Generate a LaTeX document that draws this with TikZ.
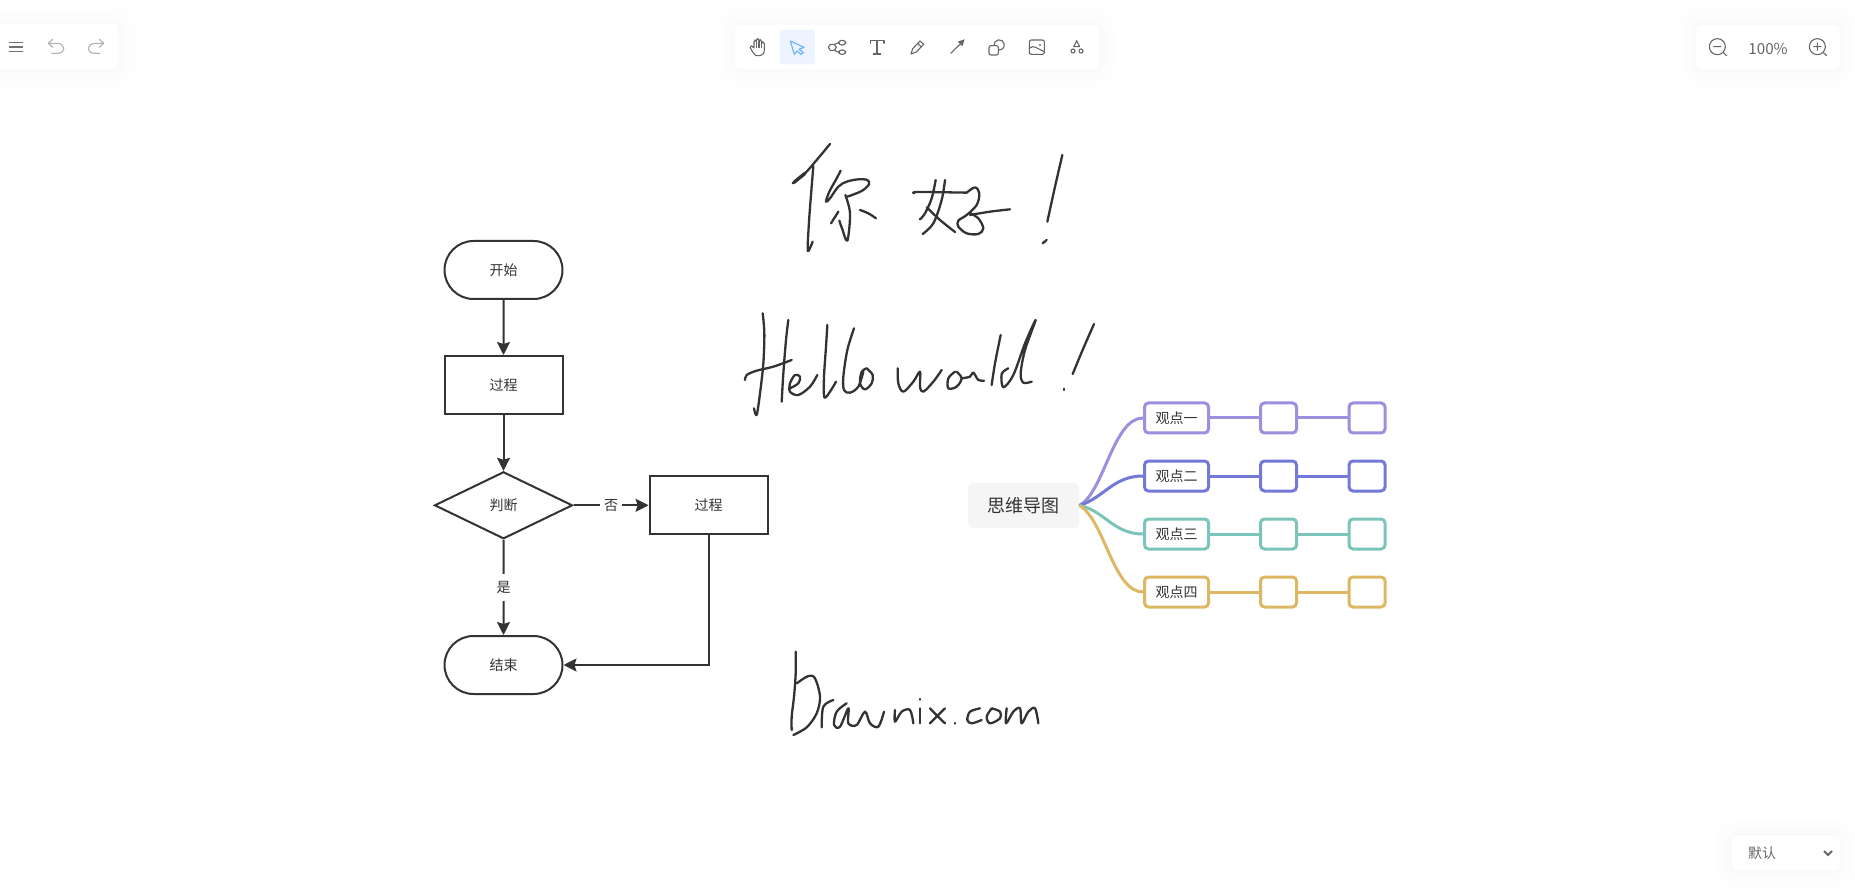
\documentclass[tikz,border=0pt]{standalone}
\usepackage{fontspec}
\setmainfont{Noto Sans CJK SC}
\usetikzlibrary{arrows.meta,shapes.geometric,shapes.misc}

\definecolor{ink}{HTML}{333333}
\definecolor{icongray}{HTML}{666666}
\definecolor{mutedgray}{HTML}{B0B0B0}
\definecolor{mindA}{HTML}{9C8FDE}
\definecolor{mindB}{HTML}{7279D6}
\definecolor{mindC}{HTML}{7AC4B9}
\definecolor{mindD}{HTML}{DDB763}

\tikzset{
  inkline/.style={draw=ink, line width=1.15pt, line cap=round, line join=round},
  flowbox/.style={draw=ink, line width=1pt, fill=white, font=\fontsize{7}{8}\selectfont, text=ink, inner sep=0pt},
  flowrect/.style={flowbox, rectangle, minimum width=59pt, minimum height=29pt},
  flowround/.style={flowbox, rounded rectangle, minimum width=59pt, minimum height=29pt},
  flowtest/.style={flowbox, diamond, minimum width=69pt, minimum height=33.5pt},
  flowarrow/.style={draw=ink, line width=1pt, -{Stealth[length=6.5pt,width=6.5pt,inset=1pt]}},
  edgelabel/.style={fill=white, font=\fontsize{7}{8}\selectfont, text=ink, inner xsep=2pt, inner ysep=3.5pt},
  mindroot/.style={fill=black!4, rounded corners=2.5pt, minimum width=55.5pt, minimum height=22.5pt, font=\fontsize{9}{10}\selectfont, text=ink, inner sep=0pt},
  mindbox/.style={draw=#1, line width=1.5pt, rounded corners=2pt, fill=white, minimum height=15pt, font=\fontsize{7}{8}\selectfont, text=ink, inner sep=0pt},
  mindline/.style={draw=#1, line width=1.5pt},
  icon/.style={draw=icongray, line width=0.55pt, line cap=round, line join=round},
  panel/.style={fill=white, rounded corners=2.5pt},
  toolfont/.style={text=icongray, inner sep=0pt}
}

\newcommand{\inkstroke}[1]{\draw[inkline] plot[smooth,tension=.55] coordinates {#1};}
\newcommand{\softpanel}[2]{
  \foreach \w in {18,14,10,6,3}
    \draw[black, opacity=0.004, line width=\w pt, rounded corners=3pt] #1 rectangle #2;
  \fill[panel] #1 rectangle #2;
}

\begin{document}
\begin{tikzpicture}[x=0.5pt, y=-0.5pt]
  \useasboundingbox (0,0) rectangle (1855,892);
  \fill[white] (0,0) rectangle (1855,892);

  % toolbars
  \softpanel{(-20,24)}{(118,69)}
  \softpanel{(735,25)}{(1099,69)}
  \softpanel{(1696,25)}{(1840,69)}
  \softpanel{(1732,836)}{(1840,870)}

  % left menu
  \begin{scope}[shift={(0,0)}, scale=1/3]
    \foreach \y in {127,141,155}
      \draw[icon, draw=black!55] (28,\y) -- (68,\y);
    \draw[icon, draw=mutedgray] (158,118) -- (145,130) -- (158,142);
    \draw[icon, draw=mutedgray] (145,130) -- (172,130) .. controls (198,132) and (198,160) .. (172,160) -- (155,160);
    \draw[icon, draw=mutedgray] (298,118) -- (311,130) -- (298,142);
    \draw[icon, draw=mutedgray] (311,130) -- (285,130) .. controls (258,132) and (258,160) .. (285,160) -- (300,160);
  \end{scope}

  % main tools
  \begin{scope}[shift={(725,15)}, scale=1/3]
    \fill[blue!60!cyan!7, rounded corners=1.5pt] (164,45) rectangle (270,148);
    % hand
    \draw[icon] (93,122) .. controls (84,115) and (80,105) .. (75,97) .. controls (76,90) and (83,92) .. (87,99)
      -- (87,80) .. controls (88,73) and (93,73) .. (94,80) -- (94,76) .. controls (95,69) and (101,69) .. (102,76)
      -- (102,79) .. controls (103,72) and (109,72) .. (110,80) -- (110,85) .. controls (111,79) and (117,79) .. (118,86)
      -- (118,105) .. controls (118,115) and (112,122) .. (105,122) -- cycle;
    \draw[icon] (94,80) -- (94,98) (102,78) -- (102,98) (110,82) -- (110,98);
    % select
    \draw[icon, draw=blue!50!cyan!60] (196,78) -- (237,97) -- (222,103) -- (235,113) -- (228,118) -- (216,108) -- (208,118) -- cycle;
    % mind
    \draw[icon] (310,97) -- (316,88) -- (328,88) -- (334,97) -- (328,106) -- (316,106) -- cycle;
    \draw[icon, rounded corners=1.5pt] (341,76) rectangle (362,90);
    \draw[icon, rounded corners=1.5pt] (341,105) rectangle (362,118);
    \draw[icon] (328,88) -- (341,83) (328,106) -- (341,111);
    % text
    \draw[icon] (436,85) -- (436,77) -- (477,77) -- (477,85);
    \draw[icon] (456,77) -- (456,117) (445,117) -- (467,117);
    % pencil
    \draw[icon] (558,117) -- (563,101) -- (585,78) -- (596,88) -- (574,111) -- cycle;
    \draw[icon] (578,85) -- (589,96);
    % arrow
    \draw[icon] (677,115) -- (708,85);
    \fill[icongray] (719,73) -- (712,94) -- (698,80) -- cycle;
    % shape
    \draw[icon, rounded corners=1pt] (792,92) rectangle (820,120);
    \draw[icon] (807,92) arc[start angle=172, end angle=456, radius=15.5];
    % image
    \draw[icon, rounded corners=1pt] (913,75) rectangle (958,118);
    \draw[icon] (913,100) .. controls (925,88) and (935,100) .. (958,110);
    \fill[icongray] (945,90) circle[radius=3.5];
    % shapes
    \draw[icon] (1055,77) -- (1046,95) -- (1064,95) -- cycle;
    \draw[icon] (1044,108) circle[radius=6];
    \draw[icon] (1068,108) circle[radius=6];
  \end{scope}

  % zoom
  \begin{scope}[shift={(1680,15)}, scale=1/3]
    \draw[icon] (112,95) circle[radius=24];
    \draw[icon] (130,113) -- (140,122) (101,95) -- (123,95);
    \draw[icon] (412,95) circle[radius=24];
    \draw[icon] (430,113) -- (440,122) (401,95) -- (423,95) (412,84) -- (412,106);
  \end{scope}
  \node[toolfont, font=\fontsize{7.6}{9}\selectfont] (zoomlevel) at (1768,49) {100\%};

  % theme select
  \node[toolfont, font=\fontsize{7}{8}\selectfont] (theme) at (1762,853) {默认};
  \draw[icongray, line width=1pt] (1824,851) -- (1828,855) -- (1832,851);

  % flow chart
  \node[flowround] (start) at (503.5,270) {开始};
  \node[flowrect] (stepA) at (503.5,385) {过程};
  \node[flowtest] (judge) at (503.5,505.3) {判断};
  \node[flowrect] (stepB) at (708.6,505.3) {过程};
  \node[flowround] (stop) at (503.5,665) {结束};
  \draw[flowarrow] (start) -- (stepA);
  \draw[flowarrow] (stepA) -- (judge);
  \draw[flowarrow] (judge) -- node[edgelabel] (no) {否} (stepB);
  \draw[flowarrow] (judge) -- node[edgelabel] (yes) {是} (stop);
  \draw[flowarrow] (stepB) |- (stop);

  % mind map
  \node[mindroot] (root) at (1023.5,505.5) {思维导图};
  \foreach \r/\y/\d/\c/\t in {1/418/-14/mindA/观点一, 2/476/-8/mindB/观点二, 3/534/5/mindC/观点三, 4/592/14/mindD/观点四} {
    \node[mindbox=\c, minimum width=32pt] (a\r) at (1176.5,\y) {\t};
    \node[mindbox=\c, minimum width=18pt] (b\r) at (1278.5,\y) {};
    \node[mindbox=\c, minimum width=18pt] (c\r) at (1367,\y) {};
    \draw[mindline=\c] (root.east) .. controls +(25,\d) and +(-30,0) .. (a\r.west);
    \draw[mindline=\c] (a\r) -- (b\r) -- (c\r);
  }

  % hello in chinese
  \begin{scope}[shift={(770,130)}, scale=1/3]
    \inkstroke{(180,42) (140,90) (105,130) (68,160)}
    \draw[inkline, line width=1.7pt] (105,130) -- (72,157);
    \inkstroke{(130,108) (125,170) (118,260) (113,350) (116,362) (128,335)}
    \inkstroke{(212,122) (200,145) (178,185) (168,215) (180,205) (205,170) (230,155) (265,148) (292,150) (297,163) (275,183) (232,200)}
    \inkstroke{(226,195) (240,250) (232,332) (216,295) (208,272)}
    \inkstroke{(205,245) (183,280)}
    \inkstroke{(270,240) (295,250) (318,265)}
    \inkstroke{(432,190) (445,186) (590,188)}
    \inkstroke{(497,150) (485,205) (465,250) (450,268)}
    \inkstroke{(525,150) (515,210) (490,280) (458,312)}
    \inkstroke{(470,232) (510,270) (555,306)}
    \inkstroke{(590,188) (615,172) (628,190) (620,225) (590,255) (565,272) (565,290) (590,310) (625,312) (640,295) (625,265) (600,250)}
    \inkstroke{(600,255) (660,245) (720,238)}
    \inkstroke{(877,75) (855,170) (832,275)}
    \inkstroke{(830,330) (818,340)}
  \end{scope}

  % hello world
  \begin{scope}[shift={(730,300)}, scale=1/3]
    \inkstroke{(98,40) (103,100) (100,190) (90,280) (80,345) (72,325)}
    \inkstroke{(45,240) (50,225) (80,212) (130,200) (185,180)}
    \inkstroke{(175,60) (168,120) (160,220) (155,305)}
    \inkstroke{(180,265) (205,250) (210,230) (195,225) (180,250) (180,275) (205,285) (240,260) (262,225)}
    \inkstroke{(292,75) (288,140) (282,230) (283,292) (300,275) (318,245)}
    \inkstroke{(372,85) (352,150) (340,230) (342,270) (360,278) (385,260) (400,215)}
    \inkstroke{(410,205) (395,215) (390,250) (405,268) (425,250) (428,225) (410,205)}
    \inkstroke{(503,205) (505,250) (520,275) (550,245) (570,215) (570,260) (580,275) (610,245) (635,210)}
    \inkstroke{(675,215) (655,235) (655,265) (680,260) (695,235) (680,215)}
    \inkstroke{(695,235) (720,230) (730,218) (745,240) (762,242)}
    \inkstroke{(812,105) (795,190) (785,255)}
    \inkstroke{(835,205) (815,222) (820,262) (850,225) (885,130) (917,60) (885,150) (872,220) (880,248) (905,245)}
    \inkstroke{(1092,72) (1060,145) (1028,222)}
    \inkstroke{(1002,266) (1002,270)}
  \end{scope}

  % drawnix
  \begin{scope}[shift={(780,640)}, scale=1/3]
    \inkstroke{(47,35) (47,100) (42,170) (35,230) (35,270)}
    \inkstroke{(50,130) (85,108) (105,115) (120,170) (110,220) (80,262) (40,285)}
    \inkstroke{(125,262) (130,200) (160,180)}
    \inkstroke{(200,190) (170,215) (162,255) (180,260) (205,205) (205,250) (230,255) (255,215) (270,250) (295,260) (312,215)}
    \inkstroke{(345,210) (345,245) (365,215) (390,210) (400,250)}
    \inkstroke{(420,205) (420,250)}
    \inkstroke{(420,177) (420,179)}
    \inkstroke{(450,205) (472,228) (495,250)}
    \inkstroke{(495,205) (472,228) (450,250)}
    \inkstroke{(525,249) (525,251)}
    \inkstroke{(600,205) (570,215) (562,240) (575,250) (605,240)}
    \inkstroke{(635,205) (620,230) (630,250) (660,235) (660,215) (635,205)}
    \inkstroke{(680,205) (678,250) (700,215) (720,205) (725,250) (745,215) (765,205) (775,250)}
  \end{scope}
\end{tikzpicture}
\end{document}
